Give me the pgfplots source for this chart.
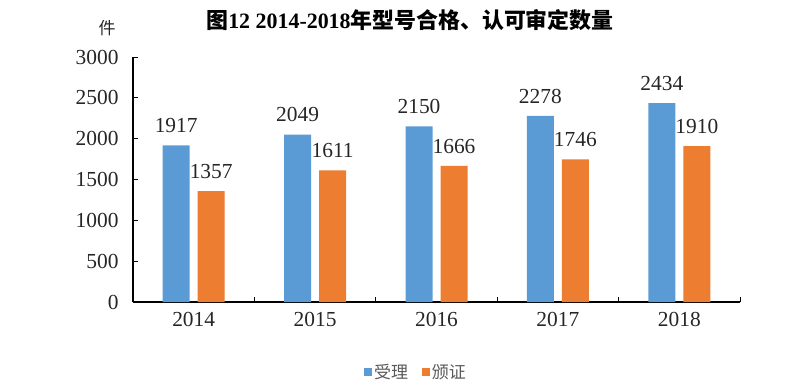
\documentclass[border=0pt]{standalone}
\usepackage{pgfplots}
\pgfplotsset{compat=1.18}
\usepackage{fontspec}
\setmainfont{Liberation Serif}
\newfontfamily\cjk{Noto Sans CJK SC}
\definecolor{cblue}{HTML}{5B9BD5}
\definecolor{corange}{HTML}{ED7D31}
\definecolor{lgray}{HTML}{595959}
\begin{document}
\begin{tikzpicture}[x=1bp,y=1bp]
\path[use as bounding box] (-133,-88) rectangle (667,302);
\begin{axis}[
  scale only axis, width=607bp, height=245bp,
  at={(0,0)}, anchor=south west,
  ybar=8bp, bar width=27bp,
  xmin=-0.5, xmax=4.5, ymin=0, ymax=3000,
  ytick={0,500,...,3000},
  xtick={0,1,2,3,4},
  xticklabels={2014,2015,2016,2017,2018},
  minor xtick={-0.5,0.5,1.5,2.5,3.5,4.5},
  every major x tick/.append style={draw=none},
  tick align=inside, major tick length=5bp, minor tick length=5bp,
  tick style={black, line width=1pt},
  axis x line*=bottom, axis y line*=left,
  axis line style={black, line width=1.2pt},
  /pgf/number format/1000 sep={},
  /pgf/number format/assume math mode=true,
  ticklabel style={font=\fontsize{21.5}{24}\selectfont, text=black!85},
  yticklabel style={xshift=-11bp},
  xticklabel style={yshift=-7bp},
  nodes near coords,
  every node near coord/.append style={font=\fontsize{21.5}{24}\selectfont, text=black!85, yshift=9bp},
  legend style={at={(283bp,-70bp)}, anchor=center, draw=none, legend columns=2,
     font=\cjk\fontsize{17}{20}\selectfont, text=lgray,
     /tikz/every even column/.append style={column sep=12bp}},
  legend image code/.code={\fill (0bp,-4bp) rectangle (8bp,4bp);},
  legend cell align=left,
]
\addplot[fill=cblue, draw=none] coordinates {(0,1917) (1,2049) (2,2150) (3,2278) (4,2434)};
\addplot[fill=corange, draw=none] coordinates {(0,1357) (1,1611) (2,1666) (3,1746) (4,1910)};
\legend{受理,颁证}
\end{axis}
\node at (277,282) {\fontsize{22}{26}\selectfont\bfseries{\cjk 图}12 2014-2018{\cjk 年型号合格、认可审定数量}};
\node[text=black!85] at (-26,274) {\cjk\fontsize{17}{20}\selectfont 件};
\end{tikzpicture}
\end{document}
